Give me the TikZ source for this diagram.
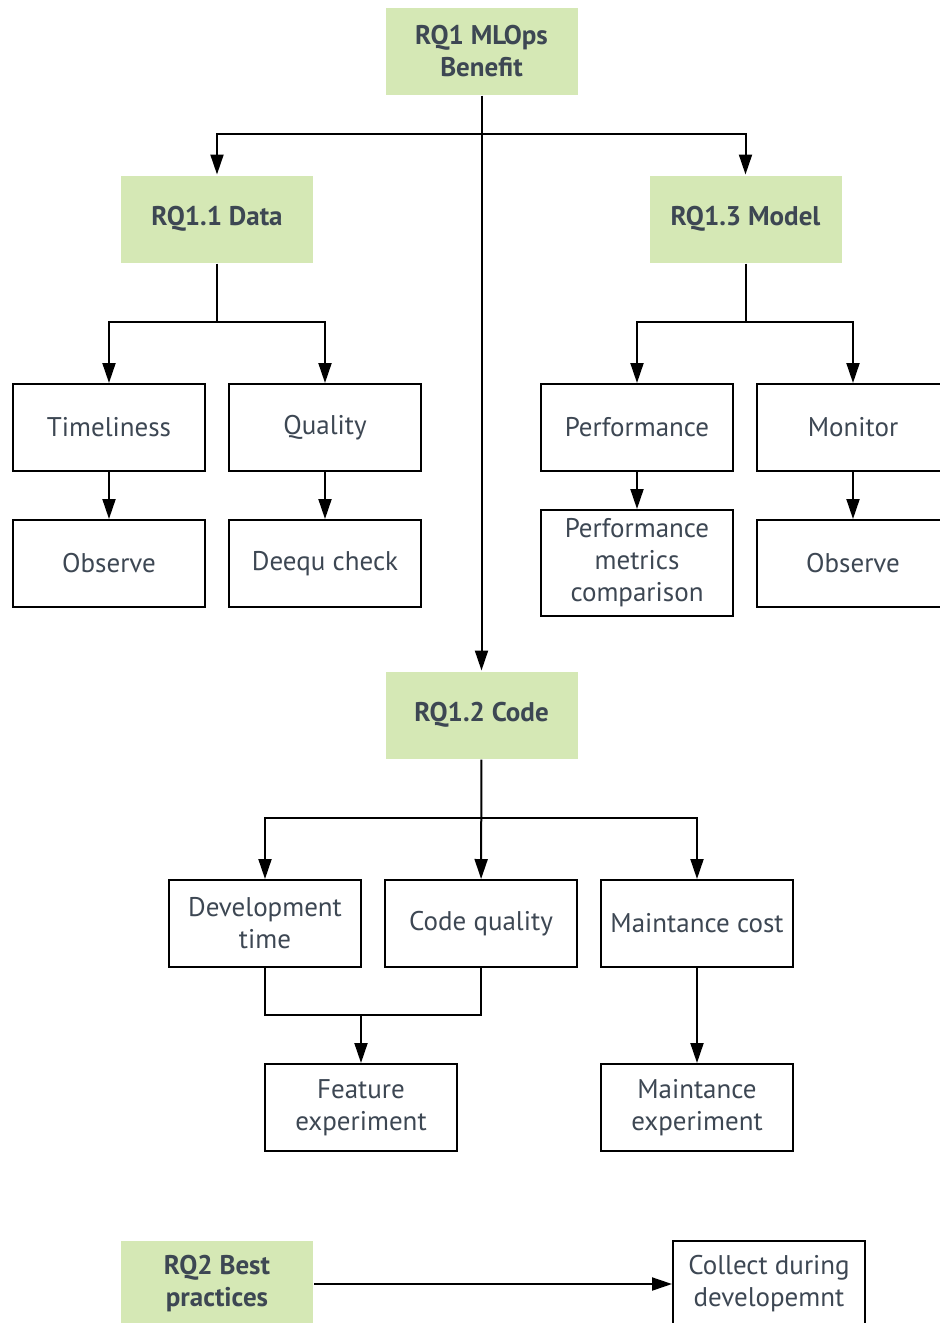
\documentclass[tikz,border=0pt]{standalone}
\usepackage{fontspec}
\setmainfont{PT Sans}
\usepackage{xcolor}
\usetikzlibrary{arrows.meta}
\definecolor{rqgreen}{RGB}{213,232,181}
\definecolor{txtgray}{RGB}{61,71,83}
\tikzset{
	box/.style={
			draw=black, line width=1pt, fill=white, text=txtgray,
			minimum width=96pt, minimum height=43.5pt, inner sep=1pt,
			align=center, font=\fontsize{13.5}{16}\selectfont
		},
	rqbox/.style={
			box, draw=none, fill=rqgreen,
			font=\fontsize{13.5}{16}\selectfont\bfseries
		},
	link/.style={line width=1pt},
	arr/.style={link, -{Triangle[length=10pt,width=6.5pt]}}
}

\begin{document}
\begin{tikzpicture}[x=0.5pt,y=-0.5pt]
		\useasboundingbox (0,0) rectangle (939,1323);
		% RQ1 and its three branches
		\node[rqbox] (rq1) at (481.5,51) {RQ1 MLOps\\Benefit};
		\node[rqbox] (rq11) at (217,219) {RQ1.1 Data};
		\node[rqbox] (rq13) at (745.5,219) {RQ1.3 Model};
		\node[rqbox] (rq12) at (481.5,715) {RQ1.2 Code};
		% data
		\node[box] (timeliness) at (109,427.5) {Timeliness};
		\node[box] (quality) at (325,427.5) {Quality};
		\node[box] (observe1) at (109,563.5) {Observe};
		\node[box] (deequ) at (325,563.5) {Deequ check};
		% model
		\node[box] (perf) at (637,427.5) {Performance};
		\node[box] (monitor) at (853,427.5) {Monitor};
		\node[box, minimum height=53pt] (perfcmp) at (637,563) {Performance\\metrics\\comparison};
		\node[box] (observe2) at (853,563.5) {Observe};
		% code
		\node[box] (devtime) at (265,923.5) {Development\\time};
		\node[box] (codeq) at (481,923.5) {Code quality};
		\node[box] (mcost) at (697,923.5) {Maintance cost};
		\node[box] (featexp) at (361,1107.5) {Feature\\experiment};
		\node[box] (mexp) at (697,1107.5) {Maintance\\experiment};
		% RQ2
		\node[rqbox] (rq2) at (217,1284) {RQ2 Best\\practices};
		\node[box] (collect) at (769,1284) {Collect during\\developemnt};

		\coordinate (split1) at (481.5,134);
		\coordinate (split2) at (217,322);
		\coordinate (split3) at (745.5,322);
		\coordinate (split4) at (481.5,818);
		\coordinate (merge) at (361,1015);

		\draw[arr] (rq1) -- (rq12);
		\draw[arr] (split1) -| (rq11);
		\draw[arr] (split1) -| (rq13);
		\draw[link] (rq11) -- (split2);
		\draw[arr] (split2) -| (timeliness);
		\draw[arr] (split2) -| (quality);
		\draw[link] (rq13) -- (split3);
		\draw[arr] (split3) -| (perf);
		\draw[arr] (split3) -| (monitor);
		\draw[arr] (timeliness) -- (observe1);
		\draw[arr] (quality) -- (deequ);
		\draw[arr] (perf) -- (perfcmp);
		\draw[arr] (monitor) -- (observe2);
		\draw[arr] (rq12) -- (codeq);
		\draw[arr] (split4) -| (devtime);
		\draw[arr] (split4) -| (mcost);
		\draw[link] (devtime) |- (merge) -| (codeq);
		\draw[arr] (merge) -- (featexp);
		\draw[arr] (mcost) -- (mexp);
		\draw[arr] (rq2) -- (collect);
	\end{tikzpicture}
\end{document}
